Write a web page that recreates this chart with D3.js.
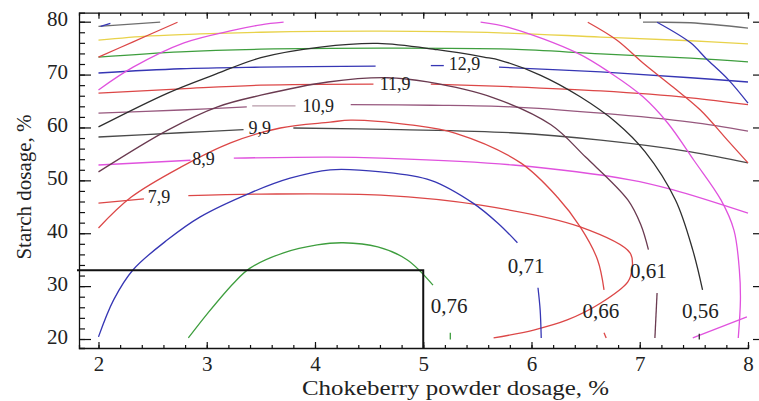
<!DOCTYPE html>
<html><head><meta charset="utf-8">
<script src="https://cdn.jsdelivr.net/npm/d3@7"></script>
<style>body{margin:0;background:#fff}svg{display:block}svg text{font-family:serif}</style>
</head><body>
<svg id="chart" width="759" height="401"></svg>
<script>
// ---------------- data (in axis units) ----------------
const xDomain = [1.82, 8];
const yDomain = [18.3, 81.7];
const xMajorTicks = [2, 3, 4, 5, 6, 7, 8];
const yMajorTicks = [20, 30, 40, 50, 60, 70, 80];
const xMinorStep = 0.2;
const yMinorStep = 2;
const xTitle = "Chokeberry powder dosage, %";
const yTitle = "Starch dosage, %";

// family A: starch-driven contours (roughly horizontal)
const topGrayA = [[2.00,79.1],[2.57,79.9]];
const topGrayB = [[7.03,79.9],[7.16,79.9],[7.47,79.8],[8.00,78.8]];
const topBlueTick = [[2.02,79.1],[2.11,79.7]];
const yellowLine = [[2.00,76.5],[2.48,77.3],[2.94,77.7],[3.50,78.0],[4.61,78.2],[5.71,77.9],[6.64,77.1],[7.47,76.4],[8.00,75.8]];
const greenLine = [[2.00,73.3],[2.76,74.3],[3.50,74.8],[4.61,75.0],[5.81,74.8],[6.64,73.9],[7.47,73.1],[8.00,72.4]];
const line129a = [[2.00,70.3],[2.76,71.1],[3.50,71.4],[4.56,71.6]];
const line129dash = [[5.07,71.7],[5.19,71.7]];
const line129b = [[5.70,71.4],[6.64,70.5],[7.47,69.4],[8.00,68.6]];
const line119a = [[2.00,66.5],[2.76,67.3],[3.50,68.0],[4.54,68.2]];
const line119b = [[5.07,68.2],[5.81,67.7],[6.64,66.9],[7.47,65.6],[8.00,64.3]];
const line109a = [[2.00,62.7],[2.76,63.3],[3.37,63.9]];
const line109light = [[3.42,64.1],[3.82,64.1]];
const line109b = [[4.33,64.3],[5.07,64.2],[5.81,63.9],[6.64,62.7],[7.47,61.0],[8.00,59.3]];
const line99a = [[2.00,58.2],[2.76,59.0],[3.34,59.6]];
const line99b = [[3.80,59.9],[4.79,59.6],[5.81,59.0],[6.64,57.6],[7.47,55.4],[8.00,53.3]];
const line89a = [[2.00,52.9],[2.85,53.8]];
const line89b = [[3.25,54.2],[4.14,54.4],[4.61,54.2],[5.83,52.9],[6.91,50.1],[7.31,48.2],[8.00,43.8]];
const line79a = [[2.00,45.7],[2.42,46.5]];
const line79b = [[2.83,47.1],[3.50,47.4],[4.61,47.2],[5.53,45.3],[6.45,41.2],[6.91,36.3],[6.93,33.4],[6.89,30.8],[6.64,26.8],[6.33,23.6],[6.02,21.7],[5.65,20.2]];
const magentaCorner = [[7.49,20.2],[7.99,24.2]];

// family B: chokeberry-driven contours (arcs)
const arc076 = [[2.83,20.2],[3.01,24.9],[3.25,30.6],[3.40,33.4],[3.71,36.3],[4.02,37.8],[4.26,38.2],[4.58,37.4],[4.85,35.0],[5.09,30.2]];
const arc076tail = [[5.25,21.2],[5.25,19.9]];
const arc071 = [[2.00,20.4],[2.14,27.4],[2.32,33.1],[2.64,38.8],[2.94,43.1],[3.40,47.6],[3.77,50.4],[4.14,52.0],[4.61,51.6],[5.07,50.0],[5.46,45.7],[5.69,41.9],[5.87,38.2]];
const arc071tail = [[6.06,29.7],[6.08,25.5],[6.09,20.2]];
const arc066 = [[2.00,41.0],[2.30,46.8],[2.76,52.5],[3.22,57.1],[3.68,59.9],[4.14,61.0],[4.33,61.4],[4.88,60.5],[5.30,58.9],[5.90,53.3],[6.24,46.8],[6.45,41.2],[6.61,35.0],[6.67,29.3]];
const arc066tail = [[6.67,21.2],[6.69,20.2]];
const arc061 = [[2.00,51.6],[2.64,59.5],[3.10,63.9],[3.50,66.1],[4.12,68.6],[4.67,69.4],[5.04,68.6],[5.65,65.6],[6.18,60.5],[6.50,54.4],[6.89,46.3],[7.01,41.6],[7.08,36.9]];
const arc061tail = [[7.16,28.7],[7.14,20.2]];
const arc056 = [[2.00,60.1],[2.64,66.5],[3.06,69.9],[3.50,73.2],[4.05,75.2],[4.58,75.9],[5.13,74.7],[5.56,73.3],[5.71,72.7],[6.08,69.9],[6.45,65.8],[6.78,61.0],[7.05,55.4],[7.33,46.3],[7.49,36.8],[7.58,29.3]];
const arc056tail = [[7.55,21.0],[7.55,19.9]];
const arcMagentaA = [[2.00,67.1],[2.32,71.4],[2.79,76.0],[3.25,78.4],[3.50,79.4],[3.71,79.9]];
const arcMagentaB = [[5.53,79.9],[5.81,78.8],[6.42,74.1],[6.73,70.3],[7.03,65.8],[7.26,60.8],[7.50,53.8],[7.75,46.3],[7.87,40.6],[7.92,33.1],[7.93,27.4],[7.91,20.2]];
const arcRedA = [[2.00,73.3],[2.32,76.2],[2.73,79.9]];
const arcRedB = [[6.52,79.9],[6.79,76.5],[7.03,72.2],[7.31,67.6],[7.56,63.3],[7.81,57.6],[8.00,53.3]];
const arcBlue = [[7.16,79.9],[7.47,76.0],[7.61,73.1],[7.82,69.0],[8.00,64.6]];

// contour labels
const labelTextA = ["12,9","11,9","10,9","9,9","8,9","7,9"];
const labelPosA  = [[5.38,72.0],[4.74,68.2],[4.03,64.1],[3.49,60.0],[2.97,54.0],[2.56,46.9]];
const labelTextB = ["0,76","0,71","0,66","0,61","0,56"];
const labelPosB  = [[5.24,26.3],[5.95,33.9],[6.64,25.3],[7.08,32.9],[7.56,25.3]];

// optimum-region marker (chokeberry 5 %, starch 33 %)
const optimum = [5, 33];

// ---------------- drawing ----------------
const colors = {
  red:"#dc4747", magenta:"#e052de", black:"#2e2e2e", gray:"#4a4a4a", maroon:"#6a3a50",
  mauve:"#97587e", lightMauve:"#b79aa8", blue:"#3636b4", green:"#3e9e3e", yellow:"#e8d24a", lightGray:"#6e6e6e"
};
const series = [
  [topGrayA,"lightGray"],[topGrayB,"lightGray"],[topBlueTick,"blue"],[yellowLine,"yellow"],[greenLine,"green"],
  [line129a,"blue"],[line129dash,"blue"],[line129b,"blue"],[line119a,"red"],[line119b,"red"],
  [line109a,"mauve"],[line109light,"lightMauve"],[line109b,"mauve"],[line99a,"gray"],[line99b,"gray"],
  [line89a,"magenta"],[line89b,"magenta"],[line79a,"red"],[line79b,"red"],[magentaCorner,"magenta"],
  [arc076,"green"],[arc076tail,"green"],[arc071,"blue"],[arc071tail,"blue"],[arc066,"red"],[arc066tail,"red"],
  [arc061,"maroon"],[arc061tail,"maroon"],[arc056,"black"],[arc056tail,"black"],
  [arcMagentaA,"magenta"],[arcMagentaB,"magenta"],[arcRedA,"red"],[arcRedB,"red"],[arcBlue,"blue"]
];

const svg = d3.select("#chart");
const mLeft = 79, mRight = 748, mTop = 12.7, mBottom = 348;
const x = d3.scaleLinear().domain(xDomain).range([mLeft, mRight]);
const y = d3.scaleLinear().domain(yDomain).range([mBottom, mTop]);
const font = "serif";

const line = d3.line().x(d => x(d[0])).y(d => y(d[1])).curve(d3.curveCatmullRom.alpha(0.5));
const g = svg.append("g");
series.forEach(([pts, c]) => {
  g.append("path").attr("d", line(pts)).attr("fill","none")
   .attr("stroke", colors[c]).attr("stroke-width", 1.3).attr("stroke-linejoin","round");
});

// labels
const labA = svg.append("g").attr("font-size", 18).attr("fill","#222").attr("text-anchor","middle");
labelTextA.forEach((t,i) => labA.append("text").attr("font-family", font).attr("x", x(labelPosA[i][0])).attr("y", y(labelPosA[i][1])).attr("dy","0.34em").text(t));
const labB = svg.append("g").attr("font-size", 21).attr("fill","#222").attr("text-anchor","middle");
labelTextB.forEach((t,i) => labB.append("text").attr("font-family", font).attr("x", x(labelPosB[i][0])).attr("y", y(labelPosB[i][1])).attr("dy","0.34em").text(t));

// optimum marker lines
svg.append("path")
  .attr("d", d3.line()([[x(xDomain[0]) - 2, y(optimum[1])],[x(optimum[0]), y(optimum[1])],[x(optimum[0]), y(yDomain[0])]]))
  .attr("fill","none").attr("stroke","#111").attr("stroke-width",2);

// axes
const xMinor = d3.range(2, 8.001, xMinorStep).map(v => +v.toFixed(2));
const yMinor = d3.range(20, 80.001, yMinorStep);

function styleAxis(sel){ sel.attr("font-family", font);
  sel.selectAll("path.domain").attr("stroke","#111").attr("stroke-width",1.3);
  sel.selectAll("line").attr("stroke","#111").attr("stroke-width",1.2);
  sel.selectAll("text").attr("font-family", font).attr("font-size", 21).attr("fill","#222"); }

// bottom
svg.append("g").attr("transform",`translate(0,${mBottom})`)
  .call(d3.axisBottom(x).tickValues(xMinor).tickSize(-3).tickFormat("")).call(styleAxis);
svg.append("g").attr("transform",`translate(0,${mBottom})`)
  .call(d3.axisBottom(x).tickValues(xMajorTicks).tickSizeInner(-6).tickSizeOuter(0).tickPadding(8).tickFormat(d3.format("d")))
  .call(styleAxis).call(s => s.select("path.domain").remove());
// top
svg.append("g").attr("transform",`translate(0,${mTop})`)
  .call(d3.axisTop(x).tickValues(xMinor).tickSize(-3).tickFormat("")).call(styleAxis);
svg.append("g").attr("transform",`translate(0,${mTop})`)
  .call(d3.axisTop(x).tickValues(xMajorTicks).tickSize(-6).tickFormat("")).call(styleAxis)
  .call(s => s.select("path.domain").remove());
// left
svg.append("g").attr("transform",`translate(${mLeft},0)`)
  .call(d3.axisLeft(y).tickValues(yMinor).tickSize(-6).tickFormat("")).call(styleAxis);
svg.append("g").attr("transform",`translate(${mLeft},0)`)
  .call(d3.axisLeft(y).tickValues(yMajorTicks).tickSizeInner(-12).tickSizeOuter(0).tickPadding(11).tickFormat(d3.format("d")))
  .call(styleAxis).call(s => s.select("path.domain").remove())
  .call(s => s.selectAll("text").attr("dy","0.2em"));
// right (ticks only, outside)
svg.append("g").attr("transform",`translate(${mRight + 5},0)`)
  .call(d3.axisRight(y).tickValues(yMajorTicks).tickSize(6).tickFormat(""))
  .call(styleAxis).call(s => s.select("path.domain").remove());

// titles
svg.append("text").attr("x", 302).attr("y", 395).attr("font-family", font).attr("font-size", 22)
  .attr("fill","#222").attr("textLength", 307).attr("lengthAdjust","spacingAndGlyphs").text(xTitle);
svg.append("text").attr("transform","translate(31,187) rotate(-90)").attr("text-anchor","middle")
  .attr("font-family", font).attr("font-size", 21).attr("fill","#222").text(yTitle);
</script>
</body></html>
